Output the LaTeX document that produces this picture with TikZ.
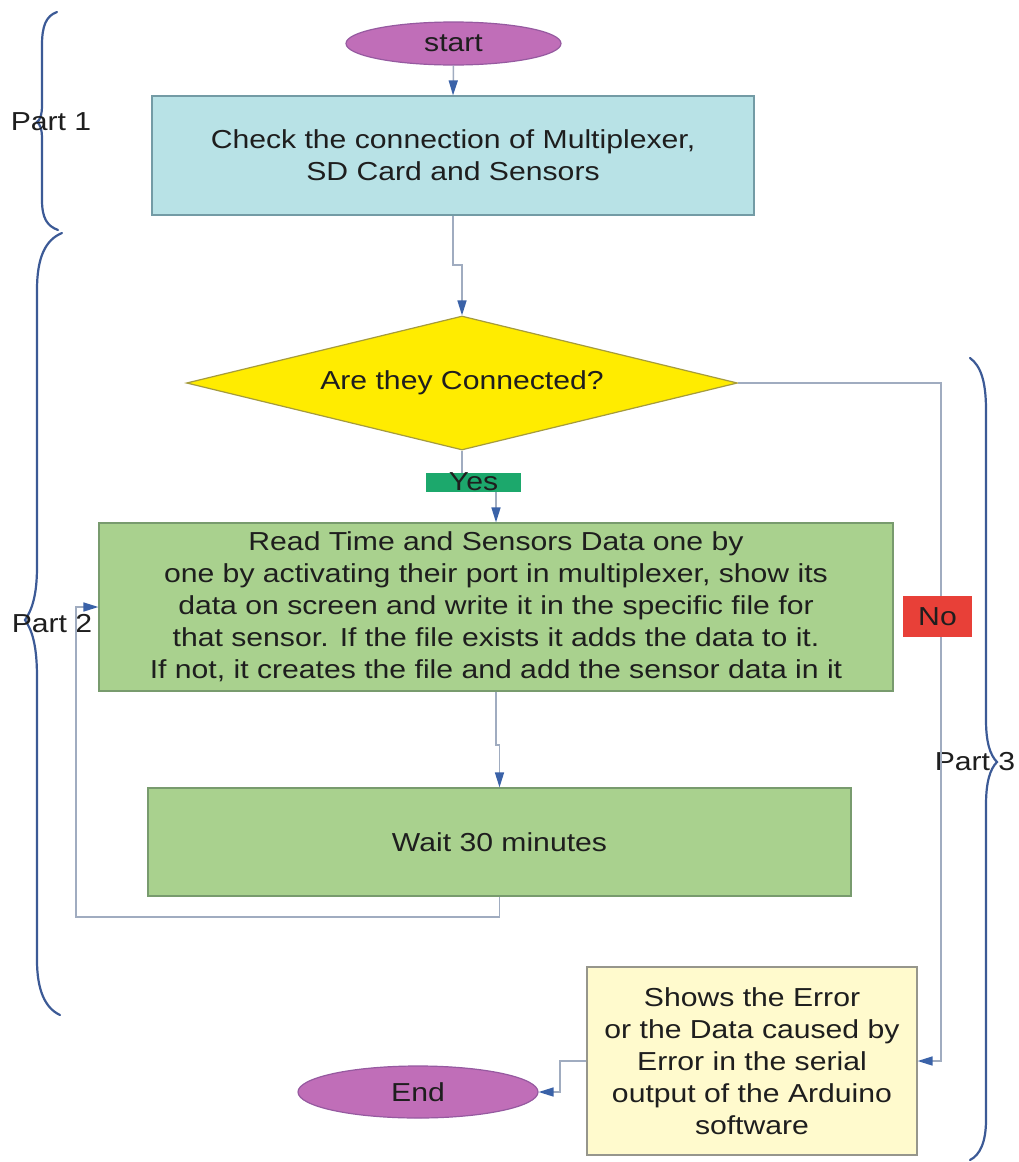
\documentclass[tikz,border=0pt]{standalone}
\usepackage{fontspec}
\setmainfont{Liberation Sans}[FakeStretch=1.16]
\usetikzlibrary{shapes.geometric,arrows.meta}

\definecolor{termfill}{RGB}{192,110,184}
\definecolor{termline}{RGB}{150,90,160}
\definecolor{cyanfill}{RGB}{184,226,230}
\definecolor{cyanline}{RGB}{115,155,165}
\definecolor{decfill}{RGB}{255,236,0}
\definecolor{decline}{RGB}{165,155,60}
\definecolor{greenfill}{RGB}{169,209,142}
\definecolor{greenline}{RGB}{120,155,110}
\definecolor{notefill}{RGB}{255,250,205}
\definecolor{noteline}{RGB}{150,150,140}
\definecolor{yesfill}{RGB}{28,168,108}
\definecolor{nofill}{RGB}{232,64,56}
\definecolor{linkc}{RGB}{160,172,192}
\definecolor{arrowc}{RGB}{58,98,168}
\definecolor{bracec}{RGB}{60,90,150}
\definecolor{inkc}{RGB}{30,30,30}

\begin{document}
\begin{tikzpicture}[x=1pt,y=-1pt,
  every node/.style={font=\fontsize{26}{32}\selectfont, text=inkc, inner sep=0pt},
  term/.style={ellipse, draw=termline, fill=termfill, line width=1.2pt},
  procbox/.style={rectangle, draw=#1line, fill=#1fill, line width=1.2pt, align=center},
  decision/.style={diamond, aspect=4.1, draw=decline, fill=decfill, line width=1.2pt,
    minimum width=551pt, minimum height=134pt},
  tag/.style={rectangle, fill=#1, minimum width=0pt},
  link/.style={draw=linkc, line width=1.5pt, -{Triangle[length=15pt,width=9pt,color=arrowc]}},
  brace/.style={draw=bracec, line width=2.2pt, line cap=round},
  partlabel/.style={}
]
\useasboundingbox (0,0) rectangle (1018,1162);
\fill[white] (0,0) rectangle (1018,1162);

% side braces
\draw[brace] (57,12) .. controls (46,16) and (42,26) .. (42,45) -- (42,105)
  .. controls (42,115) and (40,120) .. (37,122) .. controls (40,124) and (42,129) .. (42,139)
  -- (42,200) .. controls (42,218) and (47,226) .. (58,230);
\draw[brace] (62,233) .. controls (45,240) and (37,258) .. (37,290) -- (37,567)
  .. controls (37,595) and (32,610) .. (25,620) .. controls (32,630) and (37,645) .. (37,677)
  -- (37,960) .. controls (37,990) and (45,1008) .. (60,1015);
\draw[brace] (970,358) .. controls (981,366) and (986,382) .. (986,410) -- (986,720)
  .. controls (986,742) and (990,755) .. (997,762) .. controls (990,769) and (986,782) .. (986,805)
  -- (986,1120) .. controls (986,1142) and (980,1155) .. (970,1160);

\node[partlabel] (p1) at (51,122) {Part 1};
\node[partlabel] (p2) at (52,624) {Part 2};
\node[partlabel] (p3) at (975,762) {Part 3};

% flow nodes
\node[term, minimum width=215pt, minimum height=43pt] (start) at (453.5,43.5) {start};
\node[procbox=cyan, minimum width=602pt, minimum height=119pt] (check) at (453,155.5)
  {Check the connection of Multiplexer,\\SD Card and Sensors};
\node[decision] (ask) at (462,383) {Are they Connected?};
\node[procbox=green, minimum width=794pt, minimum height=168pt] (read) at (496,607)
  {Read Time and Sensors Data one by\\
   one by activating their port in multiplexer, show its\\
   data on screen and write it in the specific file for\\
   that sensor. If the file exists it adds the data to it.\\
   If not, it creates the file and add the sensor data in it};
\node[procbox=green, minimum width=703pt, minimum height=108pt] (wait) at (499.5,842)
  {Wait 30 minutes};
\node[procbox=note, minimum width=330pt, minimum height=188pt] (err) at (752,1061)
  {Shows the Error\\or the Data caused by\\Error in the serial\\output of the Arduino\\software};
\node[term, minimum width=240pt, minimum height=52pt] (end) at (418,1092) {End};

% connectors
\coordinate (j1) at (453,265);
\coordinate (j2) at (462,265);
\coordinate (j3) at (462,482);
\coordinate (j4) at (496,482);
\coordinate (j5) at (496,745);
\coordinate (j6) at (499.5,745);
\coordinate (loopa) at (499.5,917);
\coordinate (loopb) at (76,917);
\coordinate (loopc) at (76,607);
\coordinate (noturn) at (941,383);
\coordinate (noback) at (941,1061);
\coordinate (endturn) at (560,1061);
\coordinate (endin) at (560,1092);

\draw[link] (start.south) -- (check.north);
\draw[link] (check.south) -- (j1) -- (j2) -- (ask.north);
\draw[link] (ask.south) -- (j3) -- (j4) -- (read.north);
\draw[link] (read.south) -- (j5) -- (j6) -- (wait.north);
\draw[link] (wait.south) -- (loopa) -- (loopb) -- (loopc) -- (read.west);
\draw[link] (ask.east) -- (noturn) -- (noback) -- (err.east);
\draw[link] (err.west) -- (endturn) -- (endin) -- (end.east);

% branch labels
\node[tag=yesfill, minimum width=95pt, text height=17pt, text depth=2pt] (yes) at (473.5,482.5) {Yes};
\node[tag=nofill, minimum width=69pt, minimum height=41pt] (no) at (937.5,616.5) {No};
\end{tikzpicture}
\end{document}
